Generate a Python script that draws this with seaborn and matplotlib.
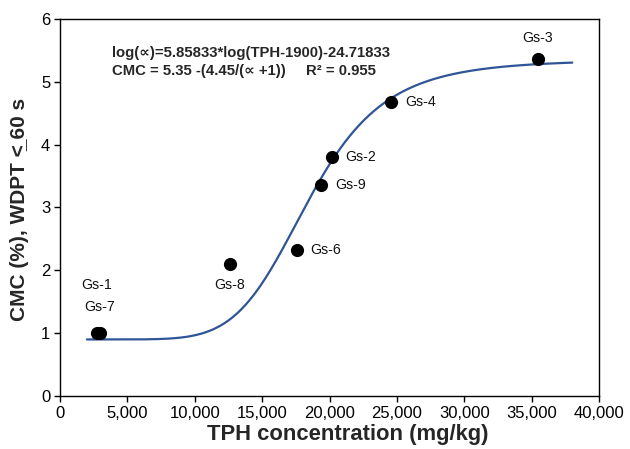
import numpy as np
import pandas as pd
import matplotlib
matplotlib.use('Agg')
import matplotlib.pyplot as plt
import seaborn as sns

# Sample data
samples = ["Gs-1", "Gs-7", "Gs-8", "Gs-6", "Gs-9", "Gs-2", "Gs-4", "Gs-3"]
tph = [2750, 2950, 12600, 17550, 19370, 20160, 24560, 35450]
cmc = [1.0, 1.0, 2.10, 2.33, 3.35, 3.81, 4.67, 5.36]

# Fitted model printed on the chart
FIT_A, FIT_B, FIT_SHIFT = 5.85833, -24.71833, 1900
FIT_TOP, FIT_SPAN = 5.35, 4.45
fit_range = (2000, 38000)

# label offsets (points) and alignment
label_pos = {
    "Gs-1": ((0, 35), "center"), "Gs-7": ((0, 19), "center"),
    "Gs-8": ((0, -15), "center"), "Gs-6": ((10, 0), "left"),
    "Gs-9": ((10, 0), "left"), "Gs-2": ((10, 0), "left"),
    "Gs-4": ((10, 0), "left"), "Gs-3": ((0, 15), "center"),
}

sns.set_style("white")
plt.rcParams['font.family'] = ['Liberation Sans', 'DejaVu Sans']

df = pd.DataFrame({"TPH": tph, "CMC": cmc, "sample": samples})

x_fit = np.linspace(fit_range[0], fit_range[1], 400)
alpha = 10 ** (FIT_A * np.log10(x_fit - FIT_SHIFT) + FIT_B)
fit = pd.DataFrame({"TPH": x_fit, "CMC": FIT_TOP - FIT_SPAN / (alpha + 1)})

fig = plt.figure(figsize=(6.3, 4.49), dpi=100)
ax = fig.add_axes([0.0952, 0.118, 0.856, 0.84])

sns.lineplot(data=fit, x="TPH", y="CMC", color="#2F5597", linewidth=1.6, ax=ax)
sns.scatterplot(data=df, x="TPH", y="CMC", color="black", s=90, edgecolor="black",
                linewidth=0, zorder=3, ax=ax)

for name, xv, yv in zip(samples, tph, cmc):
    off, ha = label_pos[name]
    ax.annotate(name, (xv, yv), xytext=off, textcoords="offset points",
                ha=ha, va="center", fontsize=10.2, color="#111111")

eq_kw = dict(fontsize=10.7, fontweight="bold", va="center")
ax.text(3850, 5.46, "log(\u221d)=5.85833*log(TPH-1900)-24.71833", **eq_kw)
ax.text(3850, 5.17, "CMC = 5.35 -(4.45/(\u221d +1))", **eq_kw)
ax.text(18250, 5.17, "R\u00b2 = 0.955", **eq_kw)

ax.set_xlim(0, 40000)
ax.set_ylim(0, 6)
ax.set_xticks(range(0, 40001, 5000))
ax.set_xticklabels([f"{v:,}" for v in range(0, 40001, 5000)])
ax.set_yticks(range(0, 7))
ax.tick_params(axis="both", direction="out", length=4, width=1, labelsize=12,
               bottom=True, left=True, colors="black", pad=3)
for s in ax.spines.values():
    s.set_color("black")
    s.set_linewidth(1)

ax.set_xlabel("TPH concentration (mg/kg)", fontsize=15.8, fontweight="bold")
ax.xaxis.set_label_coords(0.534, -0.074)
ax.set_ylabel("CMC (%), WDPT <\u0332 60 s", fontsize=15, fontweight="bold")
ax.yaxis.set_label_coords(-0.058, 0.495)

fig.savefig("out.png", dpi=100)
